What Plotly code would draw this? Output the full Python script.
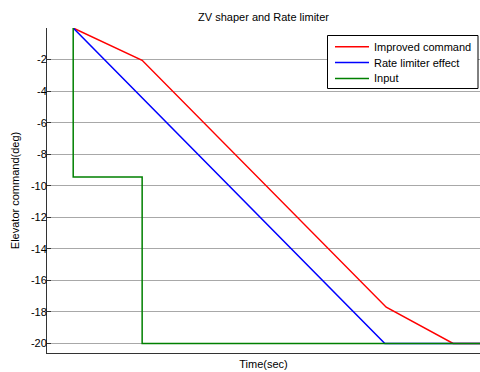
import plotly.graph_objects as go

# Time base (s) and command histories (deg)
t_input = [1.0, 1.0, 2.0, 2.0, 6.9]
input_cmd = [0.0, -9.45, -9.45, -20.0, -20.0]

t_rate = [1.0, 5.52, 6.9]
rate_cmd = [0.0, -20.0, -20.0]

t_improved = [1.0, 2.0, 5.54, 6.51, 6.9]
improved_cmd = [0.0, -2.05, -17.7, -20.0, -20.0]

y_ticks = [-2, -4, -6, -8, -10, -12, -14, -16, -18, -20]
y_labels = [str(v) for v in y_ticks]

series_names = ["Improved command", "Rate limiter effect", "Input"]
series_colors = ["#ff0000", "#0000ff", "#008000"]

FAMILY = "Liberation Sans, Arial, sans-serif"
font = dict(family=FAMILY, size=11, color="black")

# plot-area geometry in pixels (used for the boxed legend)
L, R, T, B = 47, 480, 28, 353
W, H = 480, 372


def px_x(x):
    return (x - L) / (R - L)


def px_y(y):
    return (B - y) / (B - T)


fig = go.Figure()
for xs, ys, name, color in zip([t_improved, t_rate, t_input],
                               [improved_cmd, rate_cmd, input_cmd],
                               series_names, series_colors):
    fig.add_trace(go.Scatter(x=xs, y=ys, mode="lines", name=name, showlegend=False,
                             line=dict(color=color, width=1.5)))

# boxed legend in the upper-right corner
shapes = [dict(type="rect", xref="paper", yref="paper",
               x0=px_x(327.5), x1=px_x(478), y0=px_y(35.5), y1=px_y(88.5),
               line=dict(color="black", width=1), fillcolor="white", layer="above")]
annotations = []
row_y = [46.7, 62.5, 78.5]
for name, color, ry in zip(series_names, series_colors, row_y):
    shapes.append(dict(type="line", xref="paper", yref="paper",
                       x0=px_x(335), x1=px_x(369), y0=px_y(ry), y1=px_y(ry),
                       line=dict(color=color, width=1.5), layer="above"))
    annotations.append(dict(text=name, xref="paper", yref="paper",
                            x=px_x(372), y=px_y(ry), xanchor="left", yanchor="middle",
                            showarrow=False, font=font))

fig.update_layout(
    width=W, height=H,
    margin=dict(l=L, r=W - R, t=T, b=H - B),
    paper_bgcolor="white", plot_bgcolor="white",
    font=font,
    title=dict(text="ZV shaper and Rate limiter", x=(L + R) / 2 / W, xanchor="center",
               y=1 - 17 / H, yanchor="middle", yref="container",
               font=font),
    showlegend=False,
    shapes=shapes,
    annotations=annotations,
)

fig.update_xaxes(range=[0.62, 6.9], showticklabels=False, ticks="",
                 showgrid=False, zeroline=False,
                 showline=True, linecolor="#333333", linewidth=1,
                 title=dict(text="Time(sec)", standoff=7, font=font))
fig.update_yaxes(range=[-20.6, 0], tickvals=y_ticks, ticktext=y_labels,
                 ticks="inside", ticklen=4, tickcolor="#333333",
                 ticklabelstandoff=-3,
                 showgrid=True, gridcolor="#a8a8a8", gridwidth=1, zeroline=False,
                 showline=True, linecolor="#333333", linewidth=1,
                 title=dict(text="Elevator command(deg)", standoff=9, font=font))

fig.write_html("out.html")
